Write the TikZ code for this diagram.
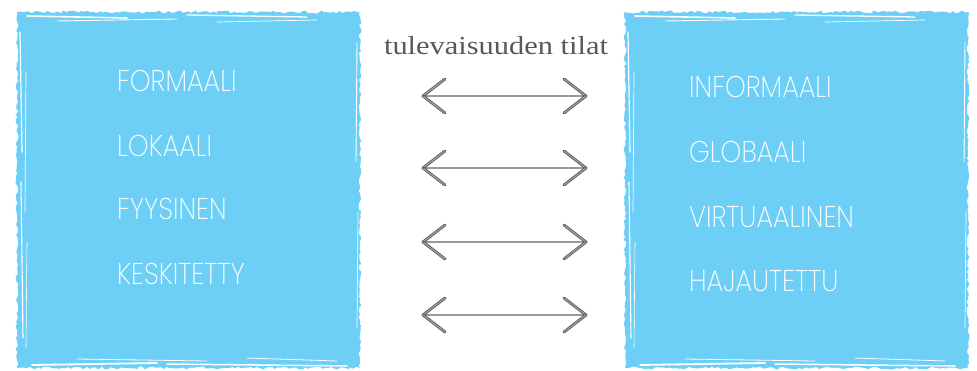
\documentclass[tikz,border=0pt]{standalone}
\usepackage{fontspec}
\setmainfont{Liberation Serif}
\newfontfamily\thinsans{Poppins}[UprightFont=* ExtraLight]
\usetikzlibrary{decorations.pathmorphing}
\definecolor{panelblue}{RGB}{109,207,246}
\definecolor{titlegray}{RGB}{88,88,88}
\definecolor{arrowdark}{RGB}{80,80,80}
\definecolor{arrowlight}{RGB}{155,155,155}
\tikzset{
  panel/.style={fill=panelblue, decorate,
    decoration={random steps, segment length=3pt, amplitude=1.4pt}},
  streak/.style={draw=white, line cap=round},
  term/.style={anchor=base west, text=white, inner sep=0pt, xscale=0.88,
    font=\thinsans\fontsize{30}{30}\selectfont},
  title/.style={anchor=base, text=titlegray, inner sep=0pt, xscale=1.17,
    font=\fontsize{26}{26}\selectfont},
  twoline/.style={draw=arrowdark, line width=0.7pt, double=arrowlight,
    double distance=1.4pt, line cap=round},
}
% brush-edged panel between the corners (#1,#2) and (#3,#4)
\newcommand{\brushpanel}[4]{%
  \fill[panel] (#1,#2) rectangle (#3,#4);
  \draw[streak, line width=1.6pt] (#1+10,#2+4) -- (#1+110,#2+6);
  \draw[streak, line width=0.9pt] (#1+40,#2+9) -- (#1+160,#2+7);
  \draw[streak, line width=1.3pt] (#1+170,#2+3) -- (#1+290,#2+5);
  \draw[streak, line width=0.7pt] (#1+200,#2+10) -- (#1+300,#2+8);
  \draw[streak, line width=1.8pt] (#1+15,#4-3) -- (#1+140,#4-5);
  \draw[streak, line width=0.8pt] (#1+60,#4-9) -- (#1+190,#4-7);
  \draw[streak, line width=1.5pt] (#1+150,#4-4) -- (#1+330,#4-2);
  \draw[streak, line width=0.8pt] (#1+230,#4-10) -- (#1+320,#4-7);
  \draw[streak, line width=1.2pt] (#1+3,#2+20) -- (#1+5,#2+140);
  \draw[streak, line width=0.7pt] (#1+9,#2+60) -- (#1+8,#2+200);
  \draw[streak, line width=1.1pt] (#1+4,#2+170) -- (#1+6,#4-30);
  \draw[streak, line width=0.6pt] (#1+10,#2+230) -- (#1+9,#4-20);
  \draw[streak, line width=0.9pt] (#3-3,#2+30) -- (#3-4,#2+150);
  \draw[streak, line width=0.7pt] (#3-2,#2+200) -- (#3-3,#4-40);
}
\begin{document}
\begin{tikzpicture}[x=1pt,y=-1pt]
  \useasboundingbox (0,0) rectangle (977,371);
  \pgfmathsetseed{7}

  % two panels
  \brushpanel{17}{12}{360}{368}
  \brushpanel{625}{12}{968}{368}

  % left column
  \node[term] (formaali)   at (117,92)  {FORMAALI};
  \node[term] (lokaali)    at (117,157) {LOKAALI};
  \node[term] (fyysinen)   at (117,220) {FYYSINEN};
  \node[term] (keskitetty) at (117,285) {KESKITETTY};

  % right column
  \node[term] (informaali)   at (689,98)  {INFORMAALI};
  \node[term] (globaali)     at (689,163) {GLOBAALI};
  \node[term] (virtuaalinen) at (689,228) {VIRTUAALINEN};
  \node[term] (hajautettu)   at (689,292) {HAJAUTETTU};

  % heading
  \node[title] (heading) at (496,55) {tulevaisuuden tilat};

  % two-headed arrows
  \foreach \i/\y in {1/96, 2/168, 3/242, 4/315} {
    \coordinate (l\i) at (423,\y);
    \coordinate (r\i) at (586,\y);
    \draw[twoline] (l\i) -- (r\i);
    \draw[twoline] (l\i) -- ++(22,-17);
    \draw[twoline] (l\i) -- ++(22,17);
    \draw[twoline] (r\i) -- ++(-22,-17);
    \draw[twoline] (r\i) -- ++(-22,17);
  }
\end{tikzpicture}
\end{document}
